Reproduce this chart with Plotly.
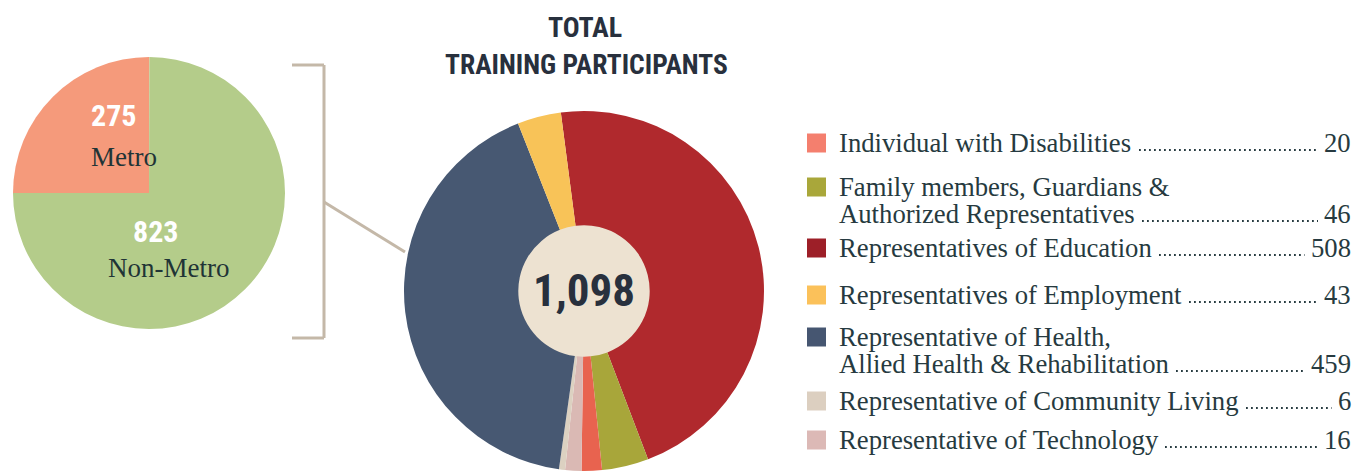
import plotly.graph_objects as go

W, H = 1358, 471

# ---------------- data ----------------
region_labels = ["Metro", "Non-Metro"]
region_values = [275, 823]

categories = [
    "Individual with Disabilities",
    "Family members, Guardians &<br>Authorized Representatives",
    "Representatives of Education",
    "Representatives of Employment",
    "Representative of Health,<br>Allied Health & Rehabilitation",
    "Representative of Community Living",
    "Representative of Technology",
]
participants = [20, 46, 508, 43, 459, 6, 16]
total_label = "1,098"
title_lines = ["TOTAL", "TRAINING PARTICIPANTS"]

# ---------------- styles ----------------
slice_colors = ["#e8634f", "#a8a63a", "#b0292d", "#f8c358", "#475872", "#dcd1c1", "#dab9b4"]
swatch_colors = ["#f47f6e", "#a9a73a", "#9d1f28", "#fbc15a", "#465671", "#dccfc0", "#dcb9b6"]
region_colors = ["#f59a7b", "#b4cc8a"]
pie_order = [2, 1, 0, 6, 5, 4, 3]  # clockwise drawing order in the donut

SERIF = "Liberation Serif, DejaVu Serif, serif"
NARROW = "Roboto Condensed, DejaVu Sans Condensed, sans-serif"
COND = "<b>%s</b>"
TXT = "#263a40"
DARK = "#28303d"
BRACKET = "#c4b8a8"


def px(x):
    return x / W


def py(y):
    return 1 - y / H


fig = go.Figure()

# left pie: Metro / Non-Metro
lc, lr = (149, 193), 136
fig.add_trace(go.Pie(
    labels=region_labels, values=region_values, sort=False,
    direction="clockwise", rotation=-90,
    marker=dict(colors=region_colors, line=dict(width=0)),
    textinfo="none", hoverinfo="label+value", showlegend=False,
    domain=dict(x=[px(lc[0] - lr), px(lc[0] + lr)], y=[py(lc[1] + lr), py(lc[1] - lr)]),
))

# donut
dc, dr = (584, 291), 180
fig.add_trace(go.Pie(
    labels=[categories[i].replace("<br>", " ") for i in pie_order],
    values=[participants[i] for i in pie_order],
    sort=False, direction="clockwise", rotation=-7.4, hole=0.365,
    marker=dict(colors=[slice_colors[i] for i in pie_order], line=dict(width=0)),
    textinfo="none", hoverinfo="label+value", showlegend=False,
    domain=dict(x=[px(dc[0] - dr), px(dc[0] + dr)], y=[py(dc[1] + dr), py(dc[1] - dr)]),
))

shapes = []
# centre disc behind the hole
hr = 67
shapes.append(dict(type="circle", xref="paper", yref="paper", layer="below",
                   x0=px(dc[0] - hr), x1=px(dc[0] + hr), y0=py(dc[1] + hr), y1=py(dc[1] - hr),
                   fillcolor="#ede2d1", line=dict(width=0)))
# bracket
for (x0, y0, x1, y1) in [(292, 65, 324, 65), (324, 65, 324, 338), (292, 338, 324, 338), (324, 202, 405, 252)]:
    shapes.append(dict(type="line", xref="paper", yref="paper",
                       x0=px(x0), y0=py(y0), x1=px(x1), y1=py(y1),
                       line=dict(color=BRACKET, width=3)))

annotations = []


def ann(x, y, text, size, color, family, xanchor="center", **kw):
    annotations.append(dict(x=px(x), y=py(y), xref="paper", yref="paper", text=text,
                            showarrow=False, xanchor=xanchor, yanchor="middle",
                            font=dict(size=size, color=color, family=family), **kw))


# title
ann(585, 28, COND % title_lines[0], 28, DARK, NARROW)
ann(586, 65, COND % title_lines[1], 27.5, DARK, NARROW)
# centre number
ann(dc[0], dc[1] - 1, COND % total_label, 45, DARK, NARROW)

# left pie labels
ann(113, 116, COND % region_values[0], 30, "white", NARROW)
ann(124, 157, region_labels[0], 27, "#1f3436", SERIF)
ann(155, 231, COND % region_values[1], 30, "white", NARROW)
ann(168, 268, region_labels[1], 27, "#1f3436", SERIF)

# legend
row_y = [143, 187, 248, 295, 337, 401, 440]
leader_x0 = [1139, 1142, 1159, 1189, 1176, 1246, 1165]
line_gap = 27
sq = 19
tx = 838
right = 1352
fs = 26.7
for i, (lab, val) in enumerate(zip(categories, participants)):
    y = row_y[i]
    shapes.append(dict(type="rect", xref="paper", yref="paper",
                       x0=px(807), x1=px(807 + sq), y0=py(y + sq / 2), y1=py(y - sq / 2),
                       fillcolor=swatch_colors[i], line=dict(width=0)))
    lines = lab.split("<br>")
    for j, ln in enumerate(lines):
        ann(tx, y + j * line_gap, ln, fs, TXT, SERIF, xanchor="left", borderpad=0)
    ylast = y + (len(lines) - 1) * line_gap
    vstr = str(val)
    ann(right, ylast, vstr, fs, TXT, SERIF, xanchor="right", borderpad=0)
    x1 = right - 13.5 * len(vstr) - 7
    shapes.append(dict(type="line", xref="paper", yref="paper",
                       x0=px(leader_x0[i]), x1=px(x1), y0=py(ylast + 7), y1=py(ylast + 7),
                       line=dict(color=TXT, width=1.8, dash="1.8px,3.2px")))

fig.update_layout(
    width=W, height=H, margin=dict(l=0, r=0, t=0, b=0),
    paper_bgcolor="white", plot_bgcolor="white",
    shapes=shapes, annotations=annotations, showlegend=False,
)

fig.write_html("out.html")
